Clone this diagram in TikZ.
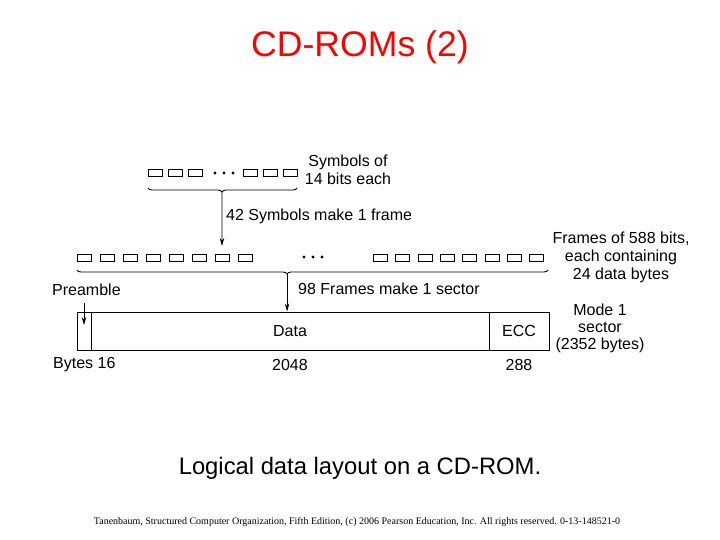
\documentclass[tikz,border=0pt]{standalone}
\usepackage{fontspec}
\setmainfont{Liberation Sans}
\newfontfamily\footfont{Liberation Serif}
\usetikzlibrary{decorations.pathreplacing,arrows.meta}
\begin{document}
\begin{tikzpicture}[x=1pt,y=-1pt,
  sbox/.style={draw,line width=0.9pt,minimum width=14pt,minimum height=7pt,inner sep=0pt},
  field/.style={draw,line width=1pt,minimum height=38pt,inner sep=0pt},
  lbl/.style={font=\fontsize{16}{17}\selectfont,inner sep=0pt},
  arr/.style={line width=0.8pt,-{Stealth[length=8pt,width=4.5pt]}},
  brc/.style={line width=0.9pt,decorate,decoration={brace,mirror,amplitude=4pt}},
  dot/.style={fill,circle,inner sep=0pt,minimum size=3.3pt}]
\useasboundingbox (0,0) rectangle (720,540);
% title
\node[text=red,font=\fontsize{35.6}{36}\selectfont] (title) at (360,47) {CD-ROMs (2)};
% top row of symbols
\foreach \i/\x in {1/155,2/175,3/195,4/250,5/270,6/290}{
  \node[sbox] (s\i) at (\x,173) {};
}
\node[dot] (d1) at (215,173) {};
\node[dot] (d2) at (224,173) {};
\node[dot] (d3) at (233,173) {};
\node[lbl,align=center] (symlbl) at (348,170) {Symbols of\\[1pt]14 bits each};
\draw[brc,decoration={aspect=0.497}] (148,188) -- node[coordinate,pos=0.497,yshift=-4pt] (b1) {} (297,188);
\coordinate (a1) at (222,246);
\draw[arr] (b1) -- (a1);
\node[lbl,anchor=west] (l42) at (226,216) {42 Symbols make 1 frame};
% second row of frames
\foreach \i/\x in {1/84,2/107,3/130,4/153,5/176,6/199,7/222,8/245}{
  \node[sbox] (f\i) at (\x,258) {};
}
\foreach \i/\x in {9/380.5,10/402.8,11/425.1,12/447.4,13/469.7,14/492,15/514.3,16/536.6}{
  \node[sbox] (f\i) at (\x,258) {};
}
\node[dot] (e1) at (304,257) {};
\node[dot] (e2) at (313,257) {};
\node[dot] (e3) at (322,257) {};
\node[lbl,align=center] (frlbl) at (621,257) {Frames of 588 bits,\\[1pt]each containing\\[1pt]24 data bytes};
\draw[brc,decoration={aspect=0.446}] (77,270) -- node[coordinate,pos=0.446,yshift=-4pt] (b2) {} (548,270);
% sector
\node[field,minimum width=14pt] (pre) at (84,331) {};
\node[field,minimum width=398pt,lbl] (data) at (290,331) {Data};
\node[field,minimum width=60pt,lbl] (ecc) at (519,331) {ECC};
\draw[arr] (b2) -- (b2 |- data.north);
\node[lbl,anchor=west] (l98) at (298,289) {98 Frames make 1 sector};
\node[lbl,anchor=west] (prel) at (52,290) {Preamble};
\coordinate (pc) at (84,303);
\draw[arr] (pc) -- (84,325);
\node[lbl,align=center] (mode) at (600,328) {Mode 1\\[0pt]sector\\[0pt](2352 bytes)};
\node[lbl,anchor=west] (b16) at (53,365) {Bytes 16};
\node[lbl] (n2048) at (290,365) {2048};
\node[lbl] (n288) at (519,365) {288};
% caption
\node[font=\fontsize{23.8}{24}\selectfont] (cap) at (360,468) {Logical data layout on a CD-ROM.};
\node[font=\footfont\fontsize{10}{11}\selectfont] (foot) at (357,522) {Tanenbaum, Structured Computer Organization, Fifth Edition, (c) 2006 Pearson Education, Inc. All rights reserved. 0-13-148521-0};
\end{tikzpicture}
\end{document}
